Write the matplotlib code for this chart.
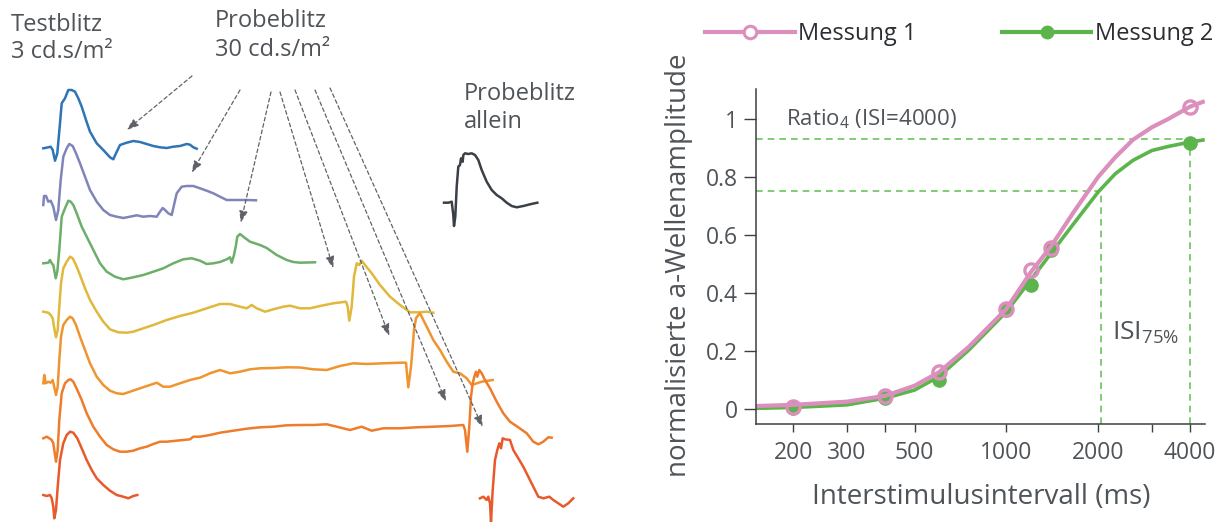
import numpy as np
import matplotlib
matplotlib.use("Agg")
import matplotlib.pyplot as plt
from matplotlib.lines import Line2D

plt.rcParams['font.family'] = ['Open Sans', 'DejaVu Sans']

# ---- right panel: normalised a-wave amplitude vs ISI ----
isi = [200, 400, 600, 1000, 1200, 1400, 4000]
mess1 = [0.008, 0.045, 0.126, 0.345, 0.478, 0.556, 1.041]
mess2 = [0.002, 0.038, 0.100, 0.340, 0.426, 0.548, 0.918]

# fitted curves
fit_x = [151, 200, 300, 400, 500, 600, 753, 1000, 1200, 1400, 1663, 2000, 2277, 2600, 3000, 3400, 4000, 4470]
fit1_y = [0.010, 0.014, 0.025, 0.045, 0.080, 0.126, 0.214, 0.345, 0.470, 0.560, 0.679, 0.800, 0.868, 0.928, 0.971, 1.000, 1.042, 1.061]
fit2_y = [0.002, 0.005, 0.014, 0.037, 0.065, 0.111, 0.203, 0.335, 0.444, 0.536, 0.639, 0.748, 0.811, 0.857, 0.891, 0.905, 0.920, 0.928]

ratio4 = 0.93
level75 = 0.75
isi75 = 2050

x_ticks = [200, 300, 400, 500, 1000, 2000, 3000, 4000]
x_ticklabels = ['200', '300', '', '500', '1000', '2000', '', '4000']
y_ticks = [0, 0.2, 0.4, 0.6, 0.8, 1.0]
y_ticklabels = ['0', '0.2', '0.4', '0.6', '0.8', '1']

# ---- left panel: ERG traces (x, y read in panel pixel units) ----
tr_blue = [(43.3, 148.3), (48.3, 147.3), (50.7, 146.7), (52.7, 150), (55, 160.7), (57.3, 153.3), (60, 123.3),
           (61.7, 103.3), (65, 98.3), (68.3, 90), (71.7, 90), (75, 91.7), (78.3, 98.3), (81.7, 106.7), (86, 120),
           (90, 131.7), (96.7, 143.3), (103.3, 150), (110, 157.3), (113.3, 159.3), (116, 153.3), (120, 145),
           (126.7, 142.7), (133.3, 141), (140, 142), (146.7, 144), (153.3, 146), (160, 147.3), (166.7, 148),
           (173.3, 146.7), (180, 146), (186.7, 144), (190, 144.7), (193.3, 147.3), (196.7, 148.7)]
tr_purple = [(43.3, 205), (44, 196), (46, 196), (48.3, 201.7), (50.7, 200.7), (53.3, 206.7), (56, 220),
             (58.3, 210), (60.7, 180), (63.3, 156.7), (66.7, 148.3), (69.3, 144), (72.7, 146), (76, 153.3),
             (80, 163.3), (85, 176.7), (90, 190), (96.7, 201.7), (103.3, 210), (110, 215), (116.7, 216.7),
             (123.3, 218), (130, 216.7), (136.7, 215.3), (143.3, 216.7), (150, 216), (156.7, 216.7), (160, 211.7),
             (162.7, 208), (165, 210), (168.3, 213.3), (171.7, 215), (174, 205), (176.7, 193.3), (181.7, 186.7),
             (186.7, 186), (193.3, 186), (200, 188.3), (206.7, 190.7), (213.3, 193.3), (220, 196.7),
             (226.7, 200), (233.3, 200), (246.7, 200), (256, 200.3)]
tr_green = [(43.3, 263.3), (48.3, 262.7), (50, 260), (51.7, 263.3), (53.3, 265), (55.7, 278.3), (57.3, 271.7),
            (59.3, 250), (61.7, 216.7), (65, 208.3), (68.3, 200.7), (70.7, 201.7), (73.3, 205), (76.7, 213.3),
            (81.7, 226.7), (86.7, 236.7), (90, 243.3), (95, 253.3), (100, 263.3), (106.7, 271.7), (115, 276.7),
            (123.3, 279.3), (133.3, 277.3), (143.3, 275), (153.3, 271.7), (163.3, 268.3), (173.3, 263.3),
            (183.3, 259.3), (191.7, 258.3), (200, 260.7), (206.7, 264), (213.3, 263.3), (220, 262),
            (226.7, 259.3), (230, 257.3), (231.7, 262.7), (234, 255), (236, 245), (237.3, 236.7), (240, 234),
            (243.3, 236.7), (250, 241.7), (260, 245), (266.7, 248), (276.7, 255), (286.7, 260), (293.3, 262),
            (300, 262.7), (315, 262.3)]
tr_yellow = [(43.3, 311.7), (48.3, 312.7), (50.7, 315), (52.7, 318.3), (54, 326.7), (56, 337.3), (57.7, 330),
             (59.3, 306.7), (61, 283.3), (63.3, 268.3), (66.7, 261.7), (70, 256.7), (72.7, 258.3), (76, 265),
             (80, 275), (85, 288.3), (90, 300), (96.7, 311.7), (103.3, 321.7), (110, 329.3), (118.3, 332.3),
             (126.7, 332.7), (133.3, 331.7), (143.3, 328.3), (153.3, 325), (166.7, 320), (180, 316),
             (193.3, 312.7), (206.7, 308.3), (220, 304), (230, 304), (240, 306.7), (246.7, 308.3), (251.7, 305),
             (256.7, 308.3), (265, 311.7), (273.3, 309.3), (283.3, 306.7), (290, 305.7), (300, 308.3),
             (310, 308.3), (320, 306), (333.3, 303.3), (346, 301.7), (347.7, 306.7), (349.3, 320.7),
             (351.7, 306.7), (354, 276.7), (356.7, 263.3), (359.3, 265), (361.7, 260.7), (365, 265),
             (371.7, 273.3), (380, 285), (390, 296.7), (400, 305), (410, 312.3), (420, 312.3), (426.7, 311.7),
             (433.3, 312.7)]
tr_orange1 = [(43.3, 383.3), (44.3, 375), (45.7, 383.3), (48.3, 381.7), (50.7, 382.7), (52.7, 380), (56, 395),
              (57.7, 386.7), (59.3, 360), (61, 336.7), (63.3, 325), (66.7, 320), (70, 316.7), (72.7, 318.3),
              (76, 325), (80, 336.7), (85, 350), (90, 363.3), (96.7, 376.7), (103.3, 385), (110, 390.7),
              (116.7, 393.3), (123.3, 394), (130, 391.7), (140, 388.3), (150, 385), (156.7, 382.7),
              (163.3, 386.7), (170, 386.7), (180, 383.3), (190, 380), (200, 377.7), (210, 373.3), (220, 370),
              (230, 373.3), (240, 371.7), (250, 369.3), (260, 368.3), (273.3, 368), (286.7, 367.3), (300, 367.5),
              (313.3, 369.3), (326.7, 370), (340, 366), (353.3, 363.3), (366.7, 364), (383.3, 363.3),
              (400, 362.7), (406, 362.7), (408.3, 387.3), (411, 366.7), (412.7, 346.7), (414, 330),
              (416, 318.3), (418.3, 315), (420, 313.3), (421.7, 316.7), (426.7, 326.7), (433.3, 340),
              (440, 350), (446.7, 361.7), (453.3, 371.7), (460, 373.3), (466.7, 378.3), (471.7, 385),
              (481.7, 381.7), (492.7, 380)]
tr_orange2 = [(43.3, 438.3), (46.7, 436.7), (49.3, 438.3), (51.7, 440), (53.3, 443.3), (56, 461.7),
              (57.7, 450), (59.3, 420), (61.7, 393.3), (65, 383.3), (68.3, 380), (70.7, 379.3), (73.3, 381.7),
              (77.3, 390), (81.7, 400), (86.7, 413.3), (93.3, 426.7), (100, 436.7), (106.7, 445),
              (113.3, 449.3), (120, 451.7), (126.7, 451.7), (133.3, 450.7), (140, 448.3), (146.7, 446.7),
              (153.3, 444), (160, 441.7), (166.7, 441.7), (173.3, 441), (183.3, 440), (190, 439.3),
              (193.3, 436.7), (200, 436.7), (210, 435), (220, 432.7), (233.3, 430.7), (246.7, 428.7),
              (260, 427.3), (273.3, 426.7), (286.7, 425.3), (300, 425), (313.3, 425), (326.7, 424.3),
              (336.7, 426.7), (350, 430), (361.7, 426.7), (371.7, 430.7), (383.3, 428.3), (400, 428.3),
              (416.7, 427.3), (433.3, 426.7), (450, 426), (463.3, 425), (465, 430), (467.3, 451.7),
              (469.3, 426.7), (471, 396.7), (472.7, 383.3), (474.3, 376.7), (476, 371.7), (477.3, 376.7),
              (479.3, 370), (481.7, 373.3), (485, 380), (490, 388.3), (496.7, 401.7), (503.3, 413.3),
              (510, 421.7), (518.3, 427.3), (526.7, 433.3), (533.3, 441.7), (538.3, 444.3), (543.3, 441.7),
              (548.3, 437.3), (551.7, 437.7)]
tr_red_a = [(43.3, 495), (46.7, 496), (50, 495), (51.7, 498.3), (53.3, 506.7), (54.3, 518.3), (56, 510),
            (57.7, 486.7), (60, 460), (63.3, 443.3), (66.7, 435), (70, 431.7), (73.3, 432.7), (77.3, 438.3),
            (81.7, 448.3), (86.7, 460), (91.7, 470), (96.7, 478.3), (103.3, 485), (110, 490.7), (116.7, 495),
            (123.3, 496.7), (128.3, 498.3), (133.3, 496), (137.3, 495)]
tr_red_b = [(480, 498.3), (483.3, 496.7), (486.7, 500), (488.3, 496.7), (490, 503.3), (491, 521.7),
            (492.7, 490), (495, 460), (497.3, 450), (499.3, 443.3), (501, 448.3), (502.7, 438.3), (505, 439.3),
            (510, 440), (513.3, 450), (518.3, 458.3), (523.3, 466.7), (528.3, 476.7), (533.3, 486.7),
            (538.3, 496.7), (543.3, 498.3), (549.3, 496.7), (553.3, 500), (558.3, 503.3), (563.3, 506.7),
            (568.3, 503.3), (573.3, 498.3)]
tr_alone = [(444, 202.7), (448.3, 202.7), (451.7, 201.7), (453.3, 215), (454, 226), (455.3, 216.7),
            (456.7, 186.7), (458.3, 166.7), (460, 165), (461, 158.3), (462.7, 161.7), (463.3, 155), (465, 153.3),
            (468.3, 154), (471.7, 153.3), (475, 155), (478.3, 160), (481.7, 170), (486.7, 181.7),
            (491.7, 190), (496.7, 195), (501.7, 198.3), (506.7, 202.7), (511.7, 206), (516.7, 207.3),
            (523.3, 206), (530, 204.3), (537.3, 202.7)]

arrow_starts = [(192, 76), (240, 90), (271, 92), (280, 92), (295, 90), (315, 90), (330, 88)]
arrow_ends = [(126.7, 130), (191.7, 172.7), (240.7, 222.7), (333.3, 268.3), (389.3, 336), (446, 401.7), (482.7, 427.3)]

TEXT = '#4f5459'
PINK = '#dc8fbc'
GREEN = '#5cb54c'
GUIDE = '#6cc35e'

fig = plt.figure(figsize=(12.26, 5.22), dpi=100)

# ---------- left panel ----------
axl = fig.add_axes([0, 0, 600 / 1226, 1])
axl.set_xlim(0, 600)
axl.set_ylim(522, 0)
axl.axis('off')

traces = [(tr_blue, '#2f74b5'), (tr_purple, '#7f85b9'), (tr_green, '#6cae6a'),
          (tr_yellow, '#e0b83c'), (tr_orange1, '#f0942f'), (tr_orange2, '#ee7c2b'),
          (tr_red_a, '#e85a2b'), (tr_red_b, '#e85a2b'), (tr_alone, '#3b4046')]
for pts, col in traces:
    xs, ys = zip(*pts)
    axl.plot(xs, ys, color=col, lw=1.8, solid_joinstyle='round')

for s, e in zip(arrow_starts, arrow_ends):
    axl.annotate('', xy=e, xytext=s,
                 arrowprops=dict(arrowstyle='-|>,head_length=0.7,head_width=0.25',
                                 color='#5f6368', lw=0.9, linestyle=(0, (3, 2.2)),
                                 shrinkA=0, shrinkB=0))

axl.text(11, 30.7, 'Testblitz', fontsize=17, color=TEXT, va='baseline')
axl.text(11, 58.3, '3 cd.s/m²', fontsize=17, color=TEXT, va='baseline')
axl.text(215, 27.3, 'Probeblitz', fontsize=17, color=TEXT, va='baseline')
axl.text(215, 56, '30 cd.s/m²', fontsize=17, color=TEXT, va='baseline')
axl.text(464, 100, 'Probeblitz', fontsize=17, color=TEXT, va='baseline')
axl.text(464, 128, 'allein', fontsize=17, color=TEXT, va='baseline')

# ---------- right panel ----------
ax = fig.add_axes([756 / 1226, 1 - 424 / 522, 449 / 1226, 335 / 522])
ax.set_xscale('log')
ax.set_xlim(151, 4480)
ax.set_ylim(-0.052, 1.103)

ax.plot([151, 4000], [ratio4, ratio4], color=GUIDE, lw=1.2, ls=(0, (4, 3)))
ax.plot([151, isi75], [level75, level75], color=GUIDE, lw=1.2, ls=(0, (4, 3)))
ax.plot([isi75, isi75], [-0.052, level75], color=GUIDE, lw=1.2, ls=(0, (4, 3)))
ax.plot([4000, 4000], [-0.052, mess2[-1]], color=GUIDE, lw=1.2, ls=(0, (4, 3)))

ax.plot(fit_x, fit2_y, color=GREEN, lw=2.6, solid_capstyle='butt')
ax.plot(isi, mess2, 'o', color=GREEN, ms=9.5)
ax.plot(fit_x, fit1_y, color=PINK, lw=3.0, solid_capstyle='butt')
ax.plot(isi, mess1, 'o', mfc='none', mec=PINK, mew=2.4, ms=9.5)

ax.set_xticks(x_ticks)
ax.set_xticklabels(x_ticklabels)
ax.xaxis.set_minor_locator(matplotlib.ticker.NullLocator())
ax.set_yticks(y_ticks)
ax.set_yticklabels(y_ticklabels)
ax.tick_params(axis='x', direction='out', length=6, width=1, colors='#3c4044',
               labelcolor=TEXT, labelsize=16.5, pad=6)
ax.tick_params(axis='y', direction='out', length=9, width=1, colors='#3c4044',
               labelcolor=TEXT, labelsize=16.5, pad=4)
for side in ['top', 'right']:
    ax.spines[side].set_visible(False)
for side in ['left', 'bottom']:
    ax.spines[side].set_color('#3c4044')
    ax.spines[side].set_linewidth(1.1)

ax.set_xlabel('Interstimulusintervall (ms)', fontsize=20, color=TEXT)
ax.xaxis.set_label_coords(0.501, -0.175)
ax.set_ylabel('normalisierte a-Wellenamplitude', fontsize=20, color=TEXT)
ax.yaxis.set_label_coords(-0.14, 0.475)

ax.text(190, 0.977, r'Ratio$_{\mathregular{4}}$ (ISI=4000)', fontsize=16, color=TEXT, va='baseline')
ax.text(2222, 0.240, r'ISI$_{\mathregular{75\%}}$', fontsize=19, color=TEXT, va='baseline')

handles = [Line2D([], [], color=PINK, lw=3, marker='o', mfc='white', mec=PINK, mew=2.2, ms=9),
           Line2D([], [], color=GREEN, lw=3, marker='o', mfc=GREEN, mec=GREEN, ms=9)]
fig.legend(handles, ['Messung 1', 'Messung 2'], loc='center left',
           bbox_to_anchor=(705 / 1226, 1 - 34 / 522), ncol=2, frameon=False,
           fontsize=17, handlelength=3.8, handletextpad=0.15, columnspacing=3.6,
           borderpad=0, borderaxespad=0, labelcolor='#2b2f33')

fig.savefig('out.png', dpi=100)
